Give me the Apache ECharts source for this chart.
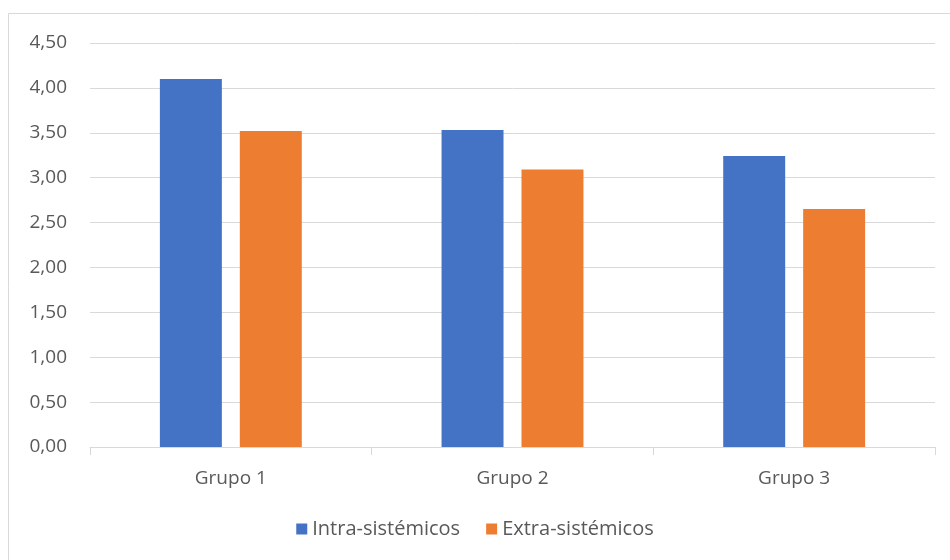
<!DOCTYPE html>
<html>
<head>
    <meta charset="utf-8">
    <title>Grupos</title>
    <script src="https://cdn.jsdelivr.net/npm/echarts@6/dist/echarts.min.js"></script>
    <style>
        body { margin: 0; background: #fff; }
    </style>
</head>
<body>
    <div id="main" style="width: 950px;height:560px;"></div>

<script>
var categories = ['Grupo 1', 'Grupo 2', 'Grupo 3'];
var intraValues = [4.10, 3.53, 3.24];
var extraValues = [3.52, 3.09, 2.65];
var yTicks = { min: 0, max: 4.5, interval: 0.5 };

var myChart = echarts.init(document.getElementById('main'));

function comma(v) {
    return v.toFixed(2).replace('.', ',');
}

myChart.setOption({
    animation: false,
    textStyle: { fontFamily: 'Open Sans, Noto Sans, sans-serif' },
    graphic: [{
        type: 'rect',
        shape: { x: 8.5, y: 13.5, width: 960, height: 560 },
        style: { fill: 'none', stroke: '#d9d9d9', lineWidth: 1 }
    }],
    legend: {
        bottom: 16,
        left: 'center',
        itemWidth: 11,
        itemHeight: 11,
        itemGap: 26,
        icon: 'rect',
        textStyle: { color: '#595959', fontSize: 20 },
        data: ['Intra-sistémicos', 'Extra-sistémicos']
    },
    grid: { left: 90, right: 15, top: 43, bottom: 113 },
    xAxis: {
        type: 'category',
        data: categories,
        axisLine: { lineStyle: { color: '#d9d9d9' } },
        axisTick: { show: true, length: 8, lineStyle: { color: '#d9d9d9' } },
        axisLabel: { color: '#595959', fontSize: 19, margin: 22 }
    },
    yAxis: {
        type: 'value',
        min: yTicks.min,
        max: yTicks.max,
        interval: yTicks.interval,
        axisLine: { show: false },
        axisTick: { show: false },
        splitLine: { lineStyle: { color: '#d9d9d9' } },
        axisLabel: { color: '#595959', fontSize: 19, margin: 23, formatter: comma }
    },
    series: [
        {
            name: 'Intra-sistémicos',
            type: 'bar',
            data: intraValues,
            barWidth: '22%',
            barGap: '29%',
            itemStyle: { color: '#4472c4' }
        },
        {
            name: 'Extra-sistémicos',
            type: 'bar',
            data: extraValues,
            barWidth: '22%',
            itemStyle: { color: '#ed7d31' }
        }
    ]
});
</script>

</body>
</html>
